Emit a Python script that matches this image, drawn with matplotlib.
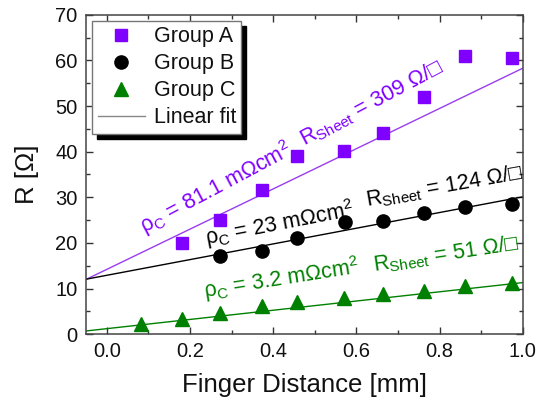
import numpy as np
import matplotlib
matplotlib.use("Agg")
import matplotlib.pyplot as plt
from matplotlib.lines import Line2D
from matplotlib.ticker import MultipleLocator

plt.rcParams['font.family'] = ['Liberation Sans', 'DejaVu Sans']
plt.rcParams['mathtext.fontset'] = 'custom'
plt.rcParams['mathtext.rm'] = 'Liberation Sans'
plt.rcParams['mathtext.it'] = 'Liberation Sans:italic'
plt.rcParams['mathtext.bf'] = 'Liberation Sans:bold'

# ---- data ----
x_a = [0.180, 0.271, 0.374, 0.457, 0.571, 0.665, 0.763, 0.860, 0.975]
y_a = [20.0, 25.0, 31.7, 39.1, 40.2, 44.0, 52.0, 60.9, 60.6]

x_b = [0.271, 0.374, 0.457, 0.573, 0.665, 0.763, 0.860, 0.975]
y_b = [17.2, 18.3, 21.0, 24.6, 24.9, 26.6, 27.9, 28.5]

x_c = [0.083, 0.180, 0.271, 0.374, 0.457, 0.571, 0.665, 0.763, 0.860, 0.975]
y_c = [2.2, 3.4, 4.7, 6.1, 7.0, 8.0, 8.9, 9.5, 10.6, 11.3]
err_c = [0.8, 0.8, 0.8, 0.8, 0.8, 0.8, 0.8, 0.8, 0.8, 0.8]

# linear fit coefficients (slope, intercept)
fit_a = [44.1, 14.2]
fit_b = [17.2, 12.9]
fit_c = [10.1, 1.2]
fit_range = [-0.05, 1.0]

labels = ['Group A', 'Group B', 'Group C', 'Linear fit']

purple = '#7f00ff'
purple_line = '#9a3cf0'
green = '#008000'

fig = plt.figure(figsize=(5.48, 4.12), dpi=100)
ax = fig.add_axes([0.157, 0.189, 0.797, 0.775])

xf = np.array(fit_range)
ax.plot(xf, fit_a[0] * xf + fit_a[1], color=purple_line, lw=1.0, zorder=2)
ax.plot(xf, fit_b[0] * xf + fit_b[1], color='black', lw=1.0, zorder=2)
ax.plot(xf, fit_c[0] * xf + fit_c[1], color=green, lw=1.0, zorder=2)

ax.errorbar(x_c, y_c, yerr=err_c, fmt='none', ecolor='#8fc88f', elinewidth=0.8, zorder=2)
ax.plot(x_a, y_a, 's', color=purple, ms=8.5, mec=purple, zorder=3)
ax.plot(x_b, y_b, 'o', color='black', ms=9.5, zorder=3)
ax.plot(x_c, y_c, '^', color=green, ms=10, zorder=3)

ax.set_xlim(-0.05, 1.0)
ax.set_ylim(0, 70)
ax.xaxis.set_major_locator(MultipleLocator(0.2))
ax.xaxis.set_minor_locator(MultipleLocator(0.1))
ax.yaxis.set_major_locator(MultipleLocator(10))
ax.yaxis.set_minor_locator(MultipleLocator(5))
ax.set_xticks([0.0, 0.2, 0.4, 0.6, 0.8, 1.0])
ax.set_xticklabels(['0.0', '0.2', '0.4', '0.6', '0.8', '1.0'])
ax.tick_params(which='both', direction='in', top=True, right=True, colors='#333333',
               labelcolor='#111111', labelsize=14.5, width=1.0)
ax.tick_params(which='major', length=5, pad=6)
ax.tick_params(which='minor', length=3)
for s in ax.spines.values():
    s.set_color('#444444')
    s.set_linewidth(1.1)

ax.set_xlabel('Finger Distance [mm]', fontsize=18.5, color='#111111', labelpad=8)
ax.set_ylabel('R [Ω]', fontsize=18.5, color='#111111', labelpad=12)

tkw = dict(fontsize=15.5, rotation_mode='anchor', ha='left', va='baseline')
ax.text(0.092, 22.0, r'ρ$_\mathrm{C}$ = 81.1 mΩcm$^\mathrm{2}$', color=purple, rotation=28, **tkw)
ax.text(0.475, 41.3, r'R$_\mathrm{Sheet}$ = 309 Ω/□', color=purple, rotation=28, **tkw)
ax.text(0.241, 19.6, r'ρ$_\mathrm{C}$ = 23 mΩcm$^\mathrm{2}$', color='black', rotation=11, **tkw)
ax.text(0.625, 28.0, r'R$_\mathrm{Sheet}$ = 124 Ω/□', color='black', rotation=10, **tkw)
ax.text(0.236, 8.0, r'ρ$_\mathrm{C}$ = 3.2 mΩcm$^\mathrm{2}$', color=green, rotation=9, **tkw)
ax.text(0.642, 13.8, r'R$_\mathrm{Sheet}$ = 51 Ω/□', color=green, rotation=8.5, **tkw)

handles = [
    Line2D([], [], ls='none', marker='s', color=purple, ms=8.5),
    Line2D([], [], ls='none', marker='o', color='black', ms=9.5),
    Line2D([], [], ls='none', marker='^', color=green, ms=10),
    Line2D([], [], color='#888888', lw=1.0),
]
leg = ax.legend(handles, labels, loc='upper left', bbox_to_anchor=(0.014, 0.981),
                fontsize=15.5, frameon=True, fancybox=False, borderpad=0.25,
                labelspacing=0.28, handlelength=2.2, handletextpad=0.4,
                borderaxespad=0.0,
                shadow={'ox': 3.5, 'oy': -3.5, 'color': 'black', 'alpha': 1.0})
leg.get_frame().set_edgecolor('#777777')
leg.get_frame().set_linewidth(1.0)
leg.get_frame().set_alpha(1.0)
for t in leg.get_texts():
    t.set_color('#111111')

fig.savefig('out.png', dpi=100)
